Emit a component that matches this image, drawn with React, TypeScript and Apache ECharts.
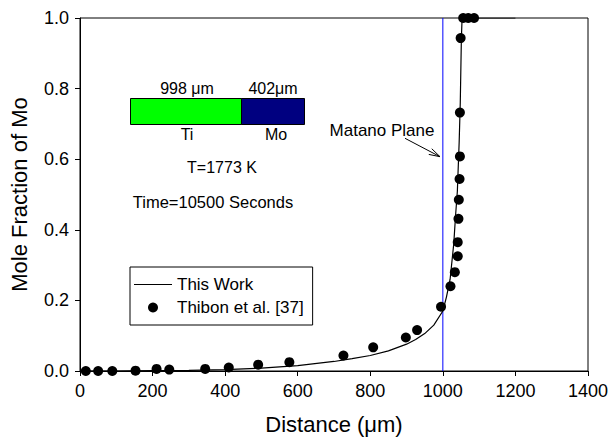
import React, { useEffect, useRef } from "react";
import * as echarts from "echarts";

// "This Work" model curve: distance (µm) and mole fraction of Mo
const curveDistance = [0, 100, 200, 300, 400, 500, 600, 700, 750, 800, 850, 900, 925, 950, 975, 1000, 1010, 1020, 1030, 1035, 1040, 1045, 1048, 1051, 1053, 1100, 1200];
const curveFraction = [0, 0, 0.001, 0.002, 0.004, 0.008, 0.015, 0.027, 0.035, 0.044, 0.057, 0.076, 0.089, 0.106, 0.13, 0.17, 0.21, 0.26, 0.36, 0.44, 0.51, 0.65, 0.76, 0.94, 1.0, 1.0, 1.0];

// Thibon et al. [37] experimental points
const expDistance = [16, 50, 89, 153, 211, 246, 345, 410, 491, 577, 726, 808, 898, 929, 995, 1021, 1033, 1041, 1041, 1043, 1044, 1046, 1047, 1047, 1049, 1056, 1070, 1086];
const expFraction = [0, 0, 0, 0.001, 0.006, 0.004, 0.006, 0.01, 0.018, 0.025, 0.044, 0.067, 0.095, 0.116, 0.182, 0.24, 0.28, 0.325, 0.365, 0.431, 0.485, 0.544, 0.608, 0.732, 0.943, 1.0, 1.0, 1.0];

// Matano plane (vertical line)
const matanoDistance = [1000, 1000];
const matanoFraction = [0, 1];

const xTicks = { min: 0, max: 1400, interval: 200 };
const yTicks = { min: 0, max: 1, interval: 0.2 };

const FONT = "Liberation Sans, Arial, Helvetica, sans-serif";

export default function App() {
  const ref = useRef<HTMLDivElement>(null);
  useEffect(() => {
    if (!ref.current) return;
    const chart = echarts.init(ref.current, null, { renderer: "svg" });
    const curve = curveDistance.map((d, i) => [d, curveFraction[i]]);
    const exp = expDistance.map((d, i) => [d, expFraction[i]]);
    const matano = matanoDistance.map((d, i) => [d, matanoFraction[i]]);

    // arrow geometry for "Matano Plane"
    const tail = [405, 138.3];
    const tip = [440, 156.7];
    const dx = tip[0] - tail[0];
    const dy = tip[1] - tail[1];
    const len = Math.sqrt(dx * dx + dy * dy);
    const ux = dx / len, uy = dy / len;
    const back = [tip[0] - 11 * ux, tip[1] - 11 * uy];
    const px = -uy * 3.2, py = ux * 3.2;

    chart.setOption({
      animation: false,
      textStyle: { fontFamily: FONT, color: "#000" },
      grid: {
        left: 80,
        right: 25,
        top: 18,
        bottom: 67,
        show: true,
        borderColor: "#000",
        borderWidth: 1,
      },
      xAxis: {
        type: "value",
        min: xTicks.min,
        max: xTicks.max,
        interval: xTicks.interval,
        name: "Distance (\u03bcm)",
        nameLocation: "middle",
        nameGap: 42,
        nameTextStyle: { fontSize: 22, color: "#000", fontFamily: FONT },
        axisLine: { show: true, lineStyle: { color: "#000", width: 1 } },
        axisTick: { show: true, inside: false, length: 5, lineStyle: { color: "#000" } },
        axisLabel: { fontSize: 18, color: "#000", margin: 11, fontFamily: FONT, formatter: (v: number) => String(v) },
        splitLine: { show: false },
      },
      yAxis: {
        type: "value",
        min: yTicks.min,
        max: yTicks.max,
        interval: yTicks.interval,
        name: "Mole Fraction of Mo",
        nameLocation: "middle",
        nameGap: 50,
        nameTextStyle: { fontSize: 22, color: "#000", fontFamily: FONT },
        axisLine: { show: true, lineStyle: { color: "#000", width: 1 } },
        axisTick: { show: true, inside: false, length: 5, lineStyle: { color: "#000" } },
        axisLabel: {
          fontSize: 18,
          color: "#000",
          margin: 11,
          fontFamily: FONT,
          formatter: (v: number) => v.toFixed(1),
        },
        splitLine: { show: false },
      },
      legend: {
        orient: "vertical",
        left: 130,
        top: 267,
        padding: [9, 9, 9, 4],
        itemGap: 6,
        itemWidth: 38,
        itemHeight: 10,
        borderColor: "#000",
        borderWidth: 1,
        backgroundColor: "#fff",
        textStyle: { fontSize: 17, color: "#000", fontFamily: FONT },
        data: [
          { name: "This Work", icon: "path://M0,0L38,0L38,1.2L0,1.2Z" },
          { name: "Thibon et al. [37]", icon: "circle" },
        ],
      },
      series: [
        {
          name: "Matano Plane",
          type: "line",
          data: matano,
          showSymbol: false,
          symbol: "none",
          silent: true,
          lineStyle: { color: "#0000ff", width: 1 },
          itemStyle: { color: "#0000ff" },
          z: 2,
        },
        {
          name: "This Work",
          type: "line",
          data: curve,
          showSymbol: false,
          symbol: "none",
          lineStyle: { color: "#000", width: 1.2 },
          itemStyle: { color: "#000" },
          z: 3,
        },
        {
          name: "Thibon et al. [37]",
          type: "scatter",
          data: exp,
          symbol: "circle",
          symbolSize: 10,
          itemStyle: { color: "#000", opacity: 1 },
          z: 4,
        },
      ],
      graphic: [
        { type: "rect", shape: { x: 130.5, y: 98.5, width: 111, height: 26 }, style: { fill: "#00ff00", stroke: "#000", lineWidth: 1 } },
        { type: "rect", shape: { x: 241.5, y: 98.5, width: 63, height: 26 }, style: { fill: "#000080", stroke: "#000", lineWidth: 1 } },
        { type: "text", x: 187, y: 88, style: { text: "998 \u03bcm", font: `16px ${FONT}`, fill: "#000", textAlign: "center", textVerticalAlign: "middle" } },
        { type: "text", x: 273, y: 88, style: { text: "402\u03bcm", font: `16px ${FONT}`, fill: "#000", textAlign: "center", textVerticalAlign: "middle" } },
        { type: "text", x: 187, y: 134, style: { text: "Ti", font: `16px ${FONT}`, fill: "#000", textAlign: "center", textVerticalAlign: "middle" } },
        { type: "text", x: 276, y: 134, style: { text: "Mo", font: `16px ${FONT}`, fill: "#000", textAlign: "center", textVerticalAlign: "middle" } },
        { type: "text", x: 222, y: 167, style: { text: "T=1773 K", font: `16px ${FONT}`, fill: "#000", textAlign: "center", textVerticalAlign: "middle" } },
        { type: "text", x: 213, y: 202, style: { text: "Time=10500 Seconds", font: `16.5px ${FONT}`, fill: "#000", textAlign: "center", textVerticalAlign: "middle" } },
        { type: "text", x: 382, y: 130, style: { text: "Matano Plane", font: `17px ${FONT}`, fill: "#000", textAlign: "center", textVerticalAlign: "middle" } },
        { type: "line", shape: { x1: tail[0], y1: tail[1], x2: tip[0], y2: tip[1] }, style: { stroke: "#000", lineWidth: 1 } },
        {
          type: "polyline",
          shape: { points: [[back[0] + px, back[1] + py], tip, [back[0] - px, back[1] - py]] },
          style: { stroke: "#000", lineWidth: 1, fill: null },
        },
      ],
    });
    return () => chart.dispose();
  }, []);
  return <div ref={ref} style={{ position: "absolute", left: 0, top: 0, width: 613, height: 440 }} />;
}
